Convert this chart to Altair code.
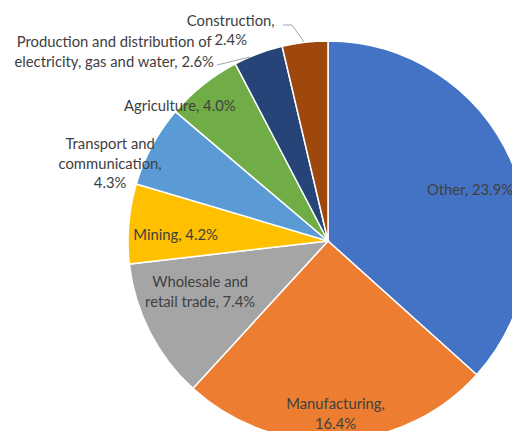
import altair as alt
import pandas as pd

# ---- data ----
categories = [
    "Other",
    "Manufacturing",
    "Wholesale and retail trade",
    "Mining",
    "Transport and communication",
    "Agriculture",
    "Production and distribution of electricity, gas and water",
    "Construction",
]
values = [23.9, 16.4, 7.4, 4.2, 4.3, 4.0, 2.6, 2.4]
labels = [
    "Other, 23.9%",
    "Manufacturing,\n16.4%",
    "Wholesale and\nretail trade, 7.4%",
    "Mining, 4.2%",
    "Transport and\ncommunication,\n4.3%",
    "Agriculture, 4.0%",
    "Production and distribution of\nelectricity, gas and water, 2.6%",
    "Construction,\n2.4%",
]
colors = ["#4472C4", "#ED7D31", "#A5A5A5", "#FFC000", "#5B9BD5", "#70AD47", "#264478", "#9E480E"]

# ---- layout (label placement, leader lines) ----
CX, CY, R = 320, 233, 200
LH = 19.5
label_place = [  # (radius, dx, dy) for the block centre
    (150, 5, 11),
    (177, -1, -3),
    (138, -5, -11),
    (153, 0, 8),
    (200, -42, 19),
    (170, -42, -1),
    (220, -137, 18),
    (210, -73, -1),
]
leaders = pd.DataFrame({
    "seg": [0, 0, 0, 1, 1],
    "i": [0, 1, 2, 0, 1],
    "px": [275, 284, 296, 209, 242],
    "py": [17, 17, 34, 57, 49],
})

df = pd.DataFrame({
    "category": categories,
    "value": values,
    "label": labels,
    "order": list(range(len(categories))),
})

base = alt.Chart(df).encode(
    theta=alt.Theta("value:Q", stack=True),
    order=alt.Order("order:Q"),
    x=alt.value(CX),
    y=alt.value(CY),
)

pie = base.mark_arc(radius=R, stroke="white", strokeWidth=1.5).encode(
    color=alt.Color(
        "category:N",
        scale=alt.Scale(domain=categories, range=colors),
        legend=None,
    )
)

layers = [pie]
for i, (r, dx, dy) in enumerate(label_place):
    n_lines = labels[i].count("\n") + 1
    t = base.transform_calculate(
        lbl=f"datum.order == {i} ? datum.label : ''"
    ).mark_text(
        radius=r, dx=dx, dy=dy - (n_lines - 1) * LH / 2,
        font="Lato", fontSize=14.8, color="#404040",
        lineBreak="\n", lineHeight=LH, align="center", baseline="middle",
    ).encode(text="lbl:N")
    layers.append(t)

lead = alt.Chart(leaders).mark_line(color="#A6A6A6", strokeWidth=1).encode(
    x=alt.X("px:Q", scale=None),
    y=alt.Y("py:Q", scale=None),
    detail="seg:N",
    order="i:Q",
)
layers.append(lead)

chart = alt.layer(*layers).properties(
    width=504, height=423,
    autosize=alt.AutoSizeParams(type="none"),
    padding=0,
).configure_view(stroke=None)

chart.save("out.html", embed_options={"renderer": "svg", "actions": False})
